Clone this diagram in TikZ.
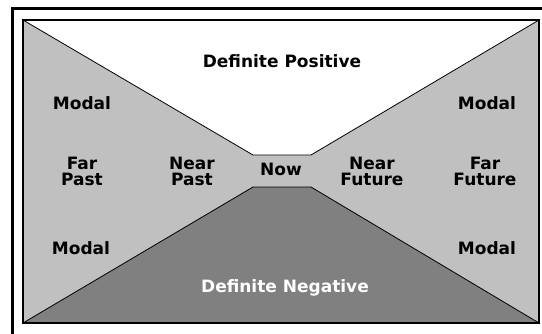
\documentclass[tikz,border=0pt]{standalone}
\usepackage{fontspec}
\setmainfont{DejaVu Sans}
\definecolor{tenselight}{RGB}{192,192,192}
\definecolor{tensedark}{RGB}{128,128,128}
\tikzset{
  lab/.style={text=#1,font=\fontsize{17}{16}\selectfont\bfseries,
              align=center,inner sep=0pt},
  lab/.default=black,
  zone/.style={fill=#1,draw=black,line width=0.8pt},
}

\begin{document}
\begin{tikzpicture}[x=1pt,y=-1pt]
  \useasboundingbox (0,0) rectangle (542,333);
  \draw[line width=3pt] (12,340) -- (12,8) -- (550,8);
  % time zones
  \fill[tenselight] (23,20) rectangle (539,323);
  \filldraw[zone=white] (23,20) -- (253,155) -- (311,155) -- (539,20) -- cycle;
  \filldraw[zone=tensedark] (23,323) -- (253,187) -- (311,187) -- (539,323) -- cycle;
  \draw[line width=1.2pt] (23,20) rectangle (539,323);

  \node[lab] (defpos) at (282,61) {Definite Positive};
  \node[lab=white] (defneg) at (285,288) {Definite Negative};
  \node[lab] (now) at (281,169) {Now};
  \foreach \x/\y/\nm in {82/103/modaltl, 487/103/modaltr,
                         81/248/modalbl, 487/248/modalbr}{
    \node[lab] (\nm) at (\x,\y) {Modal};
  }
  \node[lab] (farpast) at (82,171) {Far\\Past};
  \node[lab] (nearpast) at (192,171) {Near\\Past};
  \node[lab] (nearfut) at (372,171) {Near\\Future};
  \node[lab] (farfut) at (485,171) {Far\\Future};
\end{tikzpicture}
\end{document}
